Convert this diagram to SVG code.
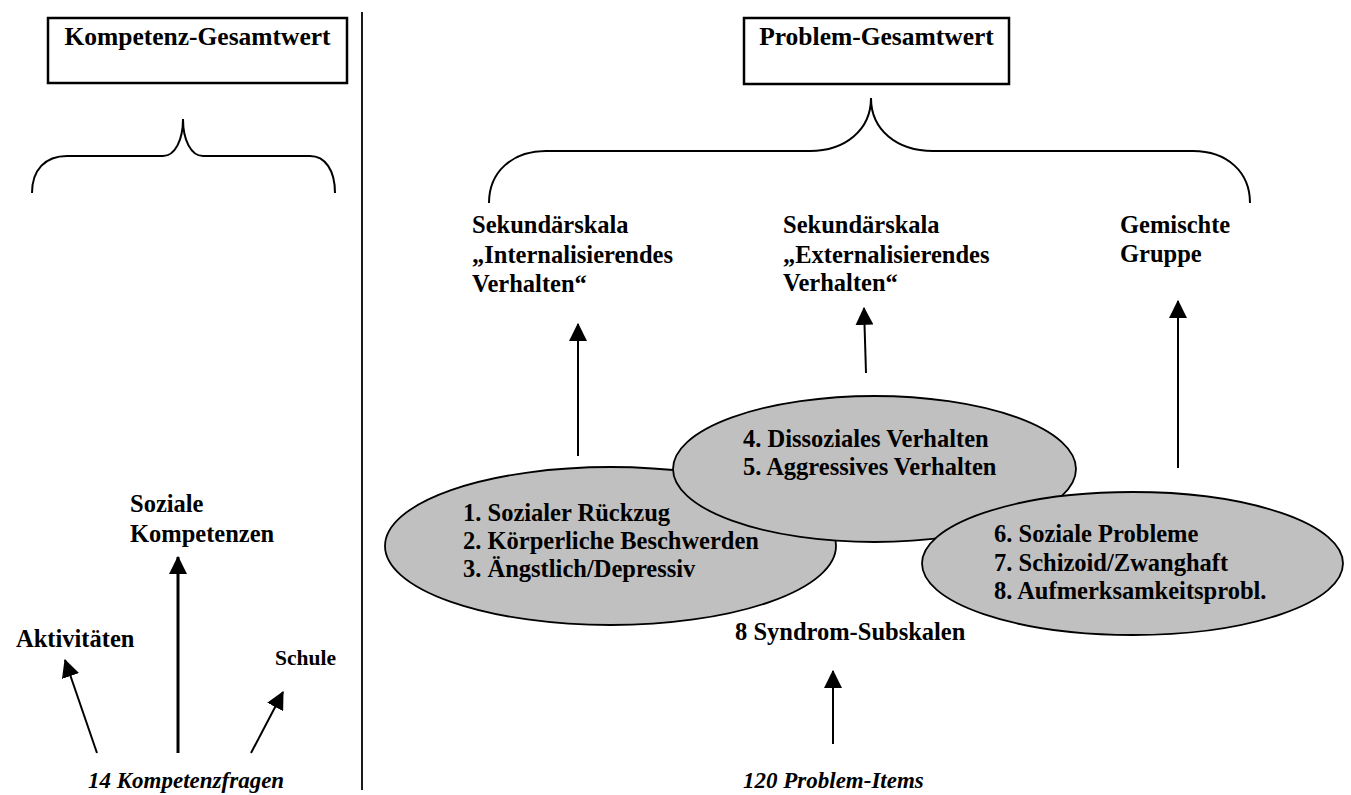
<svg xmlns="http://www.w3.org/2000/svg" width="1351" height="795" viewBox="0 0 1351 795">
<defs>
<style>
.t{font-family:"Liberation Serif","Times New Roman",serif;font-weight:bold;font-size:24.5px;fill:#000}
.ti{font-family:"Liberation Serif","Times New Roman",serif;font-weight:bold;font-style:italic;font-size:23px;fill:#000}
.h{font-family:"Liberation Serif","Times New Roman",serif;font-weight:bold;font-size:25.5px;fill:#000}
.box{fill:#fff;stroke:#000;stroke-width:2.5}
.ell{fill:#c0c0c0;stroke:#000;stroke-width:1.8}
.br{fill:none;stroke:#000;stroke-width:2}
.ar{fill:none;stroke:#000;stroke-width:2;marker-end:url(#ah)}
</style>
<marker id="ah" markerUnits="userSpaceOnUse" markerWidth="18" markerHeight="18" viewBox="0 0 16 16" refX="15" refY="8" orient="auto">
<path d="M0,0 L16,8 L0,16 Z" fill="#000"/>
</marker>
</defs>
<rect width="1351" height="795" fill="#fff"/>
<line x1="362" y1="12" x2="362" y2="790" stroke="#000" stroke-width="1.8"/>

<g id="kompetenz-gesamtwert">
<rect class="box" x="48" y="18" width="299" height="65"/>
<text class="h" x="197.5" y="45" text-anchor="middle">Kompetenz-Gesamtwert</text>
</g>
<g id="problem-gesamtwert">
<rect class="box" x="744" y="18" width="265" height="66"/>
<text class="h" x="876.5" y="45" text-anchor="middle">Problem-Gesamtwert</text>
</g>

<g id="braces">
<path class="br" d="M32,193 C32,170 45,156 67,156 L163,156 C175,156 183,140 183,119 C183,140 191,156 203,156 L310,156 C325,156 335,170 335,193"/>
<path class="br" d="M489,203 C489,172 512,151 546,151 L810,151 C845,151 871,130 871,98 C871,130 897,151 933,151 L1193,151 C1227,151 1250,172 1250,203"/>
</g>

<g id="sekundaer-intern">
<text class="t" x="472" y="233">Sekundärskala</text>
<text class="t" x="472" y="263">„Internalisierendes</text>
<text class="t" x="472" y="292">Verhalten“</text>
</g>
<g id="sekundaer-extern">
<text class="t" x="783" y="233">Sekundärskala</text>
<text class="t" x="783" y="263">„Externalisierendes</text>
<text class="t" x="783" y="291">Verhalten“</text>
</g>
<g id="gemischte-gruppe">
<text class="t" x="1120" y="233">Gemischte</text>
<text class="t" x="1120" y="262">Gruppe</text>
</g>

<g id="ellipse-internal">
<ellipse class="ell" cx="610.5" cy="546" rx="225.5" ry="79"/>
<text class="t" x="463" y="521">1. Sozialer Rückzug</text>
<text class="t" x="463" y="549">2. Körperliche Beschwerden</text>
<text class="t" x="463" y="577">3. Ängstlich/Depressiv</text>
</g>
<g id="ellipse-external">
<ellipse class="ell" cx="874.5" cy="469" rx="201.5" ry="73"/>
<text class="t" x="743" y="447">4. Dissoziales Verhalten</text>
<text class="t" x="743" y="475">5. Aggressives Verhalten</text>
</g>
<g id="ellipse-mixed">
<ellipse class="ell" cx="1132.5" cy="563.5" rx="210.5" ry="71.5"/>
<text class="t" x="994" y="542">6. Soziale Probleme</text>
<text class="t" x="994" y="571">7. Schizoid/Zwanghaft</text>
<text class="t" x="994" y="599">8. Aufmerksamkeitsprobl.</text>
</g>

<g id="syndrom-subskalen">
<text class="t" x="735" y="640">8 Syndrom-Subskalen</text>
</g>
<g id="problem-items">
<text class="ti" x="743" y="788">120 Problem-Items</text>
</g>

<g id="soziale-kompetenzen">
<text class="t" x="130" y="512">Soziale</text>
<text class="t" x="130" y="542">Kompetenzen</text>
</g>
<g id="aktivitaeten">
<text class="t" x="16" y="647">Aktivitäten</text>
</g>
<g id="schule">
<text class="t" x="275" y="665" style="font-size:21.5px">Schule</text>
</g>
<g id="kompetenzfragen">
<text class="ti" x="88" y="788">14 Kompetenzfragen</text>
</g>

<g id="connectors">
<line class="ar" x1="578" y1="456" x2="578" y2="324"/>
<line class="ar" x1="866" y1="373" x2="864" y2="308"/>
<line class="ar" x1="1178" y1="468" x2="1178" y2="301"/>
<line class="ar" x1="833" y1="744" x2="833" y2="671"/>
<line class="ar" x1="178" y1="753" x2="178" y2="557" style="stroke-width:3"/>
<line class="ar" x1="97" y1="753" x2="65" y2="660"/>
<line class="ar" x1="251" y1="753" x2="283" y2="692"/>
</g>
</svg>
